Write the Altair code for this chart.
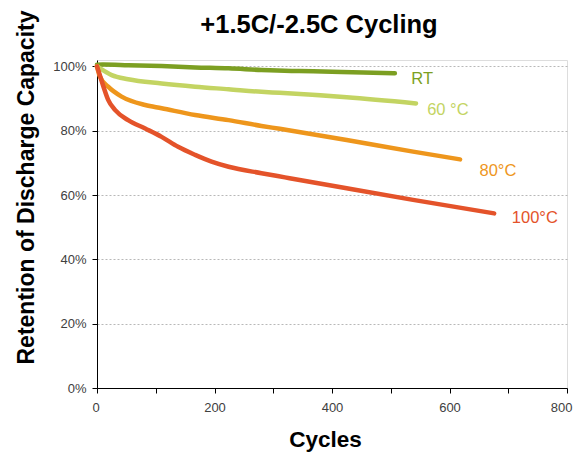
import altair as alt
import pandas as pd

# --- data ---
rt_cycles = [0, 10, 53, 110, 167, 224, 280, 331, 368, 453, 507]
rt_values = [100.5, 100.6, 100.4, 100.1, 99.7, 99.4, 98.9, 98.6, 98.5, 98.1, 97.9]

c60_cycles = [0, 5, 25, 53, 110, 167, 224, 280, 311, 425, 543]
c60_values = [100.0, 99.4, 97.3, 96.0, 94.7, 93.7, 92.9, 92.1, 91.8, 90.4, 88.5]

c80_cycles = [0, 5, 19, 42, 82, 110, 167, 224, 280, 311, 425, 538, 618]
c80_values = [100.0, 96.8, 93.7, 90.6, 88.0, 87.0, 84.9, 83.3, 81.5, 80.6, 77.1, 73.5, 71.1]

c100_cycles = [0, 2, 11, 19, 31, 53, 82, 110, 138, 167, 195, 224, 280, 320, 425, 538, 676]
c100_values = [100.0, 98.9, 93.7, 89.6, 86.4, 83.3, 80.7, 78.1, 75.0, 72.5, 70.4, 68.8, 66.8, 65.5, 62.1, 58.5, 54.3]

series_names = ["RT", "60 °C", "80°C", "100°C"]
series_colors = ["#7C9F22", "#C3D462", "#EE961C", "#E4532A"]

label_x = [535, 562, 651, 706]
label_y = [96.2, 86.5, 67.5, 52.9]

x_ticks = [0, 100, 200, 300, 400, 500, 600, 700, 800]
y_ticks = [0, 20, 40, 60, 80, 100]

rows = []
for name, xs, ys in zip(series_names,
                        [rt_cycles, c60_cycles, c80_cycles, c100_cycles],
                        [rt_values, c60_values, c80_values, c100_values]):
    for i, (cx, cy) in enumerate(zip(xs, ys)):
        rows.append({"series": name, "cycles": cx, "ret": cy, "order": i})
df = pd.DataFrame(rows)
labels = pd.DataFrame({"series": series_names, "cycles": label_x, "ret": label_y})

FONT = "Liberation Sans"
color_scale = alt.Scale(domain=series_names, range=series_colors)

x_enc = alt.X("cycles:Q",
              scale=alt.Scale(domain=[0, 800], nice=False),
              axis=alt.Axis(values=x_ticks, title="Cycles",
                            labelExpr="datum.value % 200 == 0 ? datum.label : ''",
                            labelFlush=True, labelFlushOffset=5,
                            grid=False, domainColor="black", tickColor="black",
                            tickSize=5, labelPadding=8, labelFontSize=13,
                            labelColor="#404040", labelFont=FONT,
                            titleFont=FONT, titleFontSize=22.5, titleFontWeight="bold",
                            titleColor="black", titleX=228, titleY=58,
                            titleBaseline="alphabetic", titleAlign="center"))
y_enc = alt.Y("ret:Q",
              scale=alt.Scale(domain=[0, 102], nice=False),
              axis=alt.Axis(values=y_ticks, format=".0f",
                            labelExpr="datum.value + '%'",
                            labelFlush=False,
                            title="Retention of Discharge Capacity",
                            grid=True, gridColor="#b8b8b8", gridDash=[2, 2],
                            domainColor="black", tickColor="black", tickSize=5,
                            labelPadding=6, labelFontSize=13, labelColor="#404040",
                            labelFont=FONT, titleFont=FONT, titleFontSize=23,
                            titleFontWeight="bold", titleColor="black",
                            titleX=-64, titleY=127, titleBaseline="alphabetic",
                            titleAlign="center", titleAngle=270))

lines = alt.Chart(df).mark_line(strokeWidth=4.5, strokeCap="round",
                                strokeJoin="round", interpolate="monotone").encode(
    x=x_enc, y=y_enc,
    color=alt.Color("series:N", scale=color_scale, legend=None),
    order="order:Q",
    detail="series:N",
)

texts = alt.Chart(labels).mark_text(align="left", baseline="middle",
                                    font=FONT, fontSize=16.5).encode(
    x="cycles:Q", y="ret:Q",
    color=alt.Color("series:N", scale=color_scale, legend=None),
    text="series:N",
)

chart = alt.layer(lines, texts).properties(
    width=470, height=328,
    title=alt.TitleParams("+1.5C/-2.5C Cycling", font=FONT, fontSize=25.5,
                          fontWeight="bold", color="black", anchor="middle",
                          frame="group", baseline="alphabetic",
                          dx=-13, offset=-48.5),
    autosize=alt.AutoSizeParams(type="none"),
    padding={"left": 89, "top": 52, "right": 6, "bottom": 65},
).configure_view(stroke=None).configure(background="white")

chart.save("out.html", embed_options={"renderer": "svg", "actions": False})
